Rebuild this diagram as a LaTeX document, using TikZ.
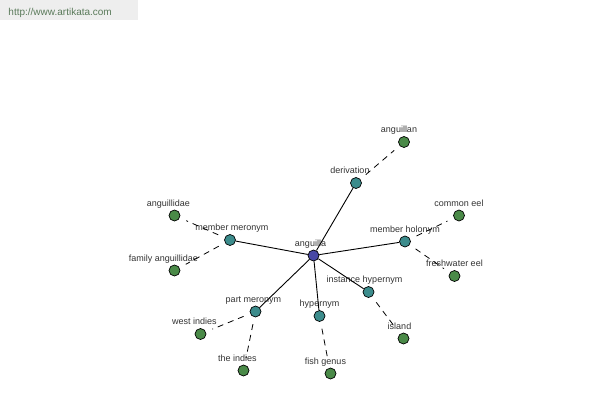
\documentclass[tikz,border=0pt]{standalone}
\usepackage{fontspec}
\setmainfont{Liberation Sans}
\usetikzlibrary{positioning}

\definecolor{rootblue}{RGB}{72,72,165}
\definecolor{reltea}{RGB}{60,140,140}
\definecolor{leafgreen}{RGB}{74,138,72}
\definecolor{bannergray}{RGB}{238,238,238}
\definecolor{bannertext}{RGB}{90,122,90}

\begin{document}
\begin{tikzpicture}[
    x = 1pt, y = -1pt, % pixel coordinates
    line width = 0.9pt, % line style
    every label/.style = {font=\fontsize{9}{9}\selectfont, text=black!80,
        inner sep=0pt, text depth=0pt},
    label distance = 3pt,
    ]

    \tikzset{word/.style={
    circle,
    draw = black,
    line width = 0.7pt,
    inner sep = 0pt,
    minimum size = 11pt
    }}
    \tikzset{root/.style={word, fill=rootblue}}
    \tikzset{rel/.style={word, fill=reltea}}
    \tikzset{leaf/.style={word, fill=leafgreen}}
    \tikzset{link/.style={dashed, dash pattern=on 6pt off 5pt, line width=0.8pt,
        shorten <=7pt, shorten >=7pt}}

    \useasboundingbox (0,0) rectangle (600,400);

    % banner
    \fill[bannergray] (0,0) rectangle (138,20);
    \node[font=\fontsize{10}{10}\selectfont, text=bannertext, inner sep=0pt,
        text depth=0pt, anchor=base west] (site) at (8,15) {http://www.artikata.com};

    % root
    \node[root, label={[xshift=-3pt]above:anguilla}] (anguilla) at (313.5,255.5) {};

    % relations
    \node[rel, label={[xshift=-6pt]above:derivation}] (deriv) at (356,183) {};
    \node[rel, label={[xshift=2pt]above:member meronym}] (memmer) at (230,240) {};
    \node[rel, label={above:member holonym}] (memhol) at (405,241.5) {};
    \node[rel, label={[xshift=-4pt]above:instance hypernym}] (insthyp) at (368.5,292) {};
    \node[rel, label={above:hypernym}] (hyper) at (319.5,316) {};
    \node[rel, label={[xshift=-2pt]above:part meronym}] (partmer) at (255.5,311.5) {};

    % leaves
    \node[leaf, label={[xshift=-5pt]above:anguillan}] (anguillan) at (404,142) {};
    \node[leaf, label={[xshift=-6pt]above:anguillidae}] (anguillidae) at (174.5,215.5) {};
    \node[leaf, label={[xshift=-11pt]above:family anguillidae}] (famang) at (174.5,270.5) {};
    \node[leaf, label={above:common eel}] (commoneel) at (459,215.5) {};
    \node[leaf, label={above:freshwater eel}] (fresheel) at (454.5,276) {};
    \node[leaf, label={[xshift=-4pt]above:island}] (island) at (403.5,338.5) {};
    \node[leaf, label={[xshift=-5pt]above:fish genus}] (fishgen) at (330.5,373.5) {};
    \node[leaf, label={[xshift=-6pt]above:west indies}] (westind) at (200.5,334) {};
    \node[leaf, label={[xshift=-6pt]above:the indies}] (theind) at (243.5,370.5) {};

    \path[-] (anguilla) edge (deriv);
    \path[-] (anguilla) edge (memmer);
    \path[-] (anguilla) edge (memhol);
    \path[-] (anguilla) edge (insthyp);
    \path[-] (anguilla) edge (hyper);
    \path[-] (anguilla) edge (partmer);

    \path[link] (deriv) edge (anguillan);
    \path[link] (memmer) edge (anguillidae);
    \path[link] (memmer) edge (famang);
    \path[link] (memhol) edge (commoneel);
    \path[link] (memhol) edge (fresheel);
    \path[link] (insthyp) edge (island);
    \path[link] (hyper) edge (fishgen);
    \path[link] (partmer) edge (westind);
    \path[link] (partmer) edge (theind);
\end{tikzpicture}
\end{document}
